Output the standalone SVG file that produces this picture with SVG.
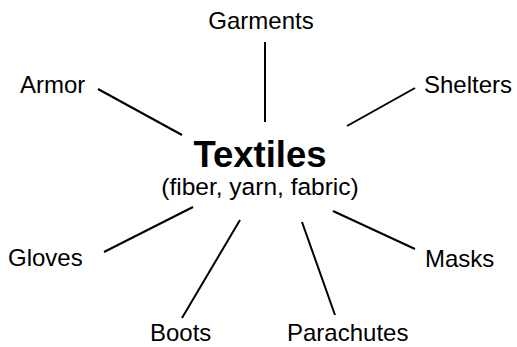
<svg xmlns="http://www.w3.org/2000/svg" width="517" height="347" viewBox="0 0 517 347">
<style>
.lbl{font-family:"Liberation Sans",Arial,Helvetica,sans-serif;font-size:24px;fill:#000}
.title{font-family:"Liberation Sans",Arial,Helvetica,sans-serif;font-size:36.5px;font-weight:bold;fill:#000}
.sub{font-family:"Liberation Sans",Arial,Helvetica,sans-serif;font-size:24.5px;fill:#000}
.conn line{stroke:#000;stroke-width:2;stroke-linecap:butt}
</style>
<rect width="517" height="347" fill="#fff"/>
<g id="connectors" class="conn">
<line x1="265" y1="42" x2="265" y2="122"/>
<line x1="98" y1="89" x2="182" y2="135"/>
<line x1="415" y1="88" x2="347" y2="126"/>
<line x1="104" y1="252" x2="193" y2="207"/>
<line x1="182" y1="318" x2="240" y2="220"/>
<line x1="302" y1="222" x2="335" y2="315"/>
<line x1="333" y1="211" x2="415" y2="249"/>
</g>
<g id="textiles"><text class="title" x="260" y="167" text-anchor="middle">Textiles</text><text class="sub" x="260" y="195" text-anchor="middle">(fiber, yarn, fabric)</text></g>
<g id="garments"><text class="lbl" x="261" y="29" text-anchor="middle">Garments</text></g>
<g id="armor"><text class="lbl" x="20" y="93">Armor</text></g>
<g id="shelters"><text class="lbl" x="424" y="93">Shelters</text></g>
<g id="gloves"><text class="lbl" x="8" y="266">Gloves</text></g>
<g id="masks"><text class="lbl" x="425" y="267">Masks</text></g>
<g id="boots"><text class="lbl" x="150" y="341">Boots</text></g>
<g id="parachutes"><text class="lbl" x="287" y="341">Parachutes</text></g>
</svg>
